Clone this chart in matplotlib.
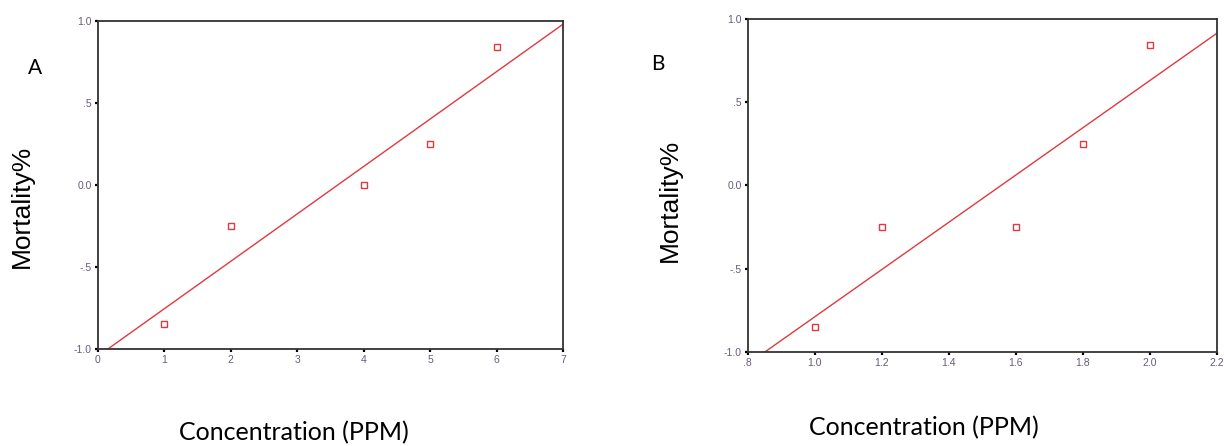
import numpy as np
import matplotlib.pyplot as plt
from matplotlib.ticker import FuncFormatter

# panel A
conc_a = [1, 2, 4, 5, 6]
mort_a = [-0.85, -0.25, 0.0, 0.25, 0.84]
xticks_a = [0, 1, 2, 3, 4, 5, 6, 7]

# panel B
conc_b = [1.0, 1.2, 1.6, 1.8, 2.0]
mort_b = [-0.85, -0.25, -0.25, 0.25, 0.84]
xticks_b = [0.8, 1.0, 1.2, 1.4, 1.6, 1.8, 2.0, 2.2]

yticks = [-1.0, -0.5, 0.0, 0.5, 1.0]

red = '#e0393e'
tick_col = '#6a5a78'


def spss_fmt(v, pos=None):
    s = '%.1f' % v
    if abs(v) < 1 and abs(v) > 1e-9:
        s = s.replace('0.', '.')
    return s


def draw_panel(ax, x, y, xlim, xticks, letter_pos, letter, fig):
    ax.plot(x, y, 's', mfc='none', mec=red, ms=5, mew=1.0, zorder=3)
    # least squares line, as in the original SPSS output
    k, b = np.polyfit(x, y, 1)
    xx = np.array(xlim)
    ax.plot(xx, k * xx + b, '-', color=red, lw=1.0)
    ax.set_xlim(xlim)
    ax.set_ylim(-1.0, 1.0)
    ax.set_xticks(xticks)
    ax.set_yticks(yticks)
    ax.xaxis.set_major_formatter(FuncFormatter(spss_fmt) if xlim[0] > 0 else FuncFormatter(lambda v, p: '%d' % v))
    ax.yaxis.set_major_formatter(FuncFormatter(spss_fmt))
    ax.tick_params(direction='out', length=2.5, width=1.6, color='black',
                   labelsize=7.5, labelcolor=tick_col, pad=2)
    for t in ax.get_xticklabels() + ax.get_yticklabels():
        t.set_fontfamily('Liberation Sans')
    for sp in ax.spines.values():
        sp.set_color('#333333')
        sp.set_linewidth(1.3)
    fig.text(letter_pos[0], letter_pos[1], letter, fontsize=15, family='Lato',
             ha='center', va='center')


fig = plt.figure(figsize=(12.24, 4.46), dpi=100)

ax1 = fig.add_axes([0.080, 0.2175, 0.380, 0.735])
ax2 = fig.add_axes([0.611, 0.211, 0.383, 0.747])

draw_panel(ax1, conc_a, mort_a, (0, 7), xticks_a, (35 / 1224, 1 - 68 / 446), 'A', fig)
draw_panel(ax2, conc_b, mort_b, (0.8, 2.2), xticks_b, (658 / 1224, 1 - 64 / 446), 'B', fig)

for xc, yc, xl, yl in [(294, 433, 22, 206), (924, 428, 670, 200)]:
    fig.text(xc / 1224, 1 - yc / 446, 'Concentration (PPM)', fontsize=18,
             family='Lato', ha='center', va='center')
    fig.text(xl / 1224, 1 - yl / 446, 'Mortality%', fontsize=19, rotation=90,
             family='Liberation Sans', ha='center', va='center')

fig.savefig('out.png', dpi=100, facecolor='white')
